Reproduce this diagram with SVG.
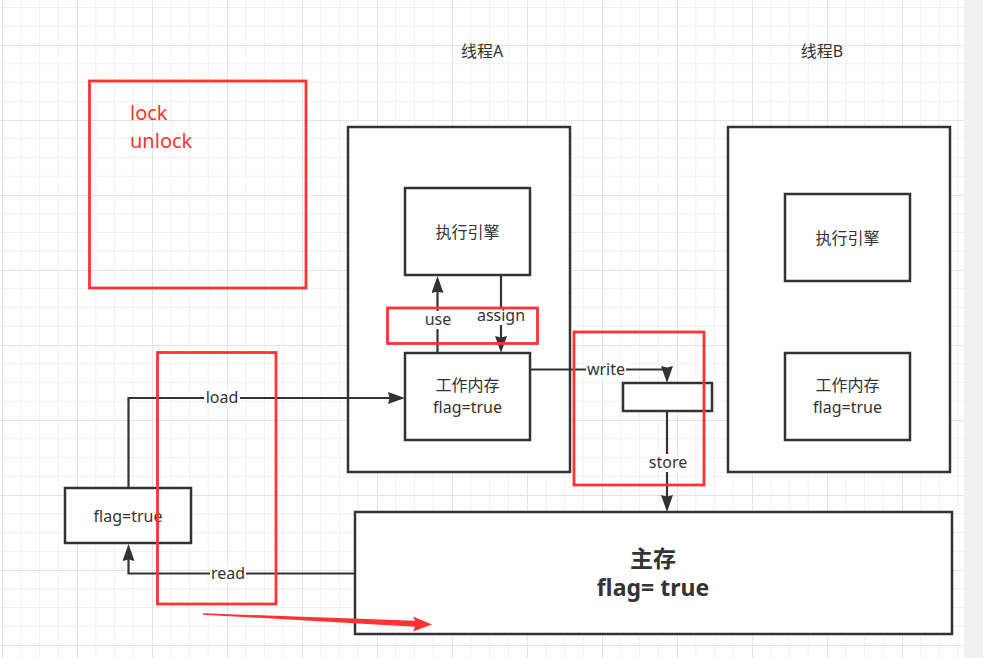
<svg xmlns="http://www.w3.org/2000/svg" width="983" height="658" viewBox="0 0 983 658">
<defs>
<pattern id="grid" patternUnits="userSpaceOnUse" x="2" y="45" width="75" height="75">
<path d="M18.75,0V75M37.5,0V75M56.25,0V75M0,18.75H75M0,37.5H75M0,56.25H75" stroke="#f1f1f1" stroke-width="1" fill="none"/>
<path d="M0.5,0V75M0,0.5H75" stroke="#e4e4e4" stroke-width="1" fill="none"/>
</pattern>
<marker id="arr" markerUnits="userSpaceOnUse" viewBox="0 0 17 12" refX="8" refY="6" markerWidth="17" markerHeight="12" orient="auto">
<path d="M0,0L17,6L0,12L1.5,6Z" fill="#333"/>
</marker>
<style>
.box{fill:#fff;stroke:#333;stroke-width:2.5}
.red{fill:none;stroke:#ff3333;stroke-width:2.8}
.t{font-family:"Noto Sans","Noto Sans CJK SC",sans-serif;font-size:16px;fill:#333;text-anchor:middle}
.b{font-weight:bold;font-size:23px}
.rt{font-family:"Noto Sans","Noto Sans CJK SC",sans-serif;font-size:20px;fill:#ff3333}
.c{fill:none;stroke:#333;stroke-width:2.2;marker-end:url(#arr)}
.lb{fill:#fff}
</style>
</defs>
<rect width="983" height="658" fill="#fff"/>
<rect width="964" height="658" fill="url(#grid)"/>
<rect x="964" width="19" height="658" fill="#f1f1f1"/>

<g id="threadA-label"><text class="t" x="482" y="57">线程A</text></g>
<g id="threadB-label"><text class="t" x="822" y="57">线程B</text></g>

<g id="threadA"><rect class="box" x="348" y="127" width="222" height="345"/></g>
<g id="threadB"><rect class="box" x="728" y="127" width="222" height="345"/></g>

<g id="engineA"><rect class="box" x="405" y="188" width="125" height="87"/><text class="t" x="467.5" y="238">执行引擎</text></g>
<g id="memA"><rect class="box" x="405" y="353" width="125" height="87"/><text class="t" x="467.5" y="391">工作内存</text><text class="t" x="467.5" y="413">flag=true</text></g>
<g id="engineB"><rect class="box" x="785" y="194" width="125" height="87"/><text class="t" x="847.5" y="244">执行引擎</text></g>
<g id="memB"><rect class="box" x="785" y="353" width="125" height="87"/><text class="t" x="847.5" y="391">工作内存</text><text class="t" x="847.5" y="413">flag=true</text></g>

<g id="buffer"><rect class="box" x="623" y="383" width="89" height="28"/></g>
<g id="flagbox"><rect class="box" x="65" y="488" width="126" height="55"/><text class="t" x="128" y="522">flag=true</text></g>
<g id="main"><rect class="box" x="355" y="512" width="597" height="122"/><text class="t b" x="653" y="567">主存</text><text class="t b" x="653" y="596">flag= true</text></g>

<g id="connectors">
<path class="c" d="M437.5,353V285"/>
<path class="c" d="M501,275V344"/>
<path class="c" d="M128.5,488V398H396"/>
<path class="c" d="M355,573.5H128.5V553"/>
<path class="c" d="M530,369.5H667V374"/>
<path class="c" d="M667,411V503"/>
<rect class="lb" x="423" y="311" width="30" height="18"/><text class="t" x="438" y="325">use</text>
<rect class="lb" x="476" y="307" width="50" height="18"/><text class="t" x="501" y="321">assign</text>
<rect class="lb" x="204" y="389" width="36" height="18"/><text class="t" x="222" y="403">load</text>
<rect class="lb" x="210" y="565" width="36" height="18"/><text class="t" x="228" y="579">read</text>
<rect class="lb" x="586" y="361" width="40" height="18"/><text class="t" x="606" y="375">write</text>
<rect class="lb" x="648" y="454" width="40" height="18"/><text class="t" x="668" y="468">store</text>
</g>

<g id="annotations">
<rect class="red" x="89.5" y="81" width="216.5" height="207"/>
<text class="rt" x="130" y="120">lock</text>
<text class="rt" x="130" y="148">unlock</text>
<rect class="red" x="387.5" y="308" width="150" height="35.5"/>
<rect class="red" x="157.5" y="352.5" width="118.5" height="251.5"/>
<rect class="red" x="574" y="332" width="130" height="153"/>
<polygon points="203,613.3 415,620.8 413,616.5 432,624.5 413,631.5 415,626.8 203,614.7" fill="#ff3333"/>
</g>
</svg>
